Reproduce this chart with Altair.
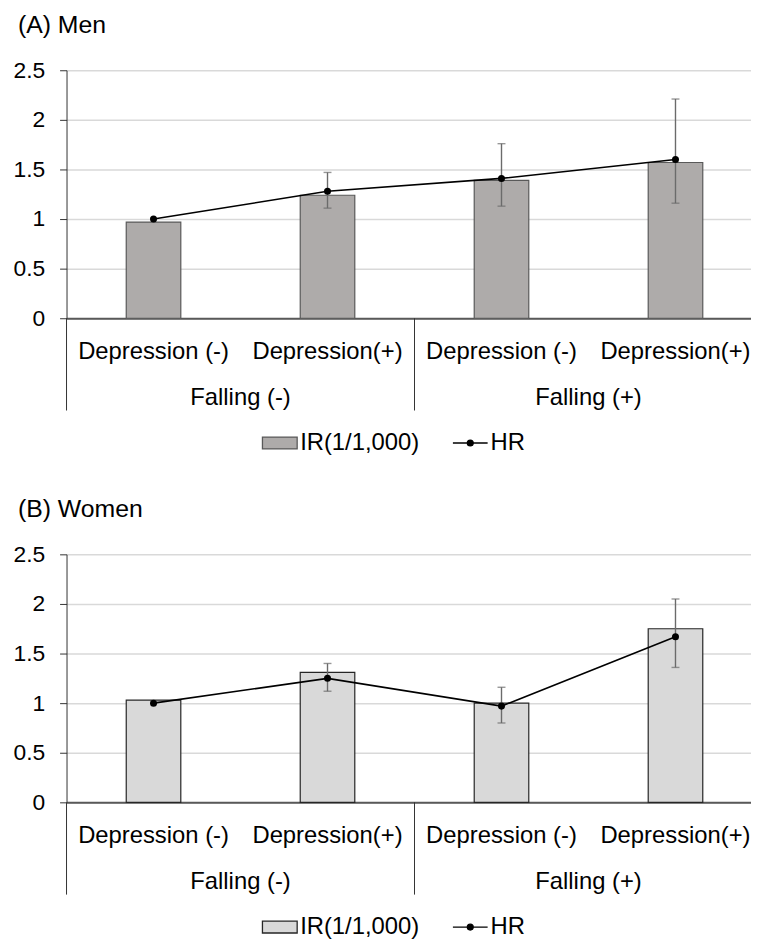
import altair as alt
import pandas as pd

# ---- data ----
conditions = ["Depression (-)", "Depression(+)", "Depression (-)", "Depression(+)"]
group_names = ["Falling (-)", "Falling (+)"]
group_start = [0, 2]
group_mid = [1, 3]
legend_items = ["IR(1/1,000)", "HR"]

men_ir = [0.97, 1.24, 1.39, 1.57]
men_hr = [1.00, 1.28, 1.41, 1.60]
men_lo = [None, 1.11, 1.13, 1.16]
men_hi = [None, 1.47, 1.76, 2.21]

women_ir = [1.03, 1.31, 1.00, 1.75]
women_hr = [1.00, 1.25, 0.97, 1.67]
women_lo = [None, 1.12, 0.80, 1.36]
women_hi = [None, 1.40, 1.16, 2.05]

y_ticks = [0, 0.5, 1, 1.5, 2, 2.5]

# ---- style ----
FONT = "Liberation Sans"
PLOT_W = 690
PLOT_H = 250
X_MAX = 3.934
LBL = 24

rect_path = "M-1,-0.34H1V0.34H-1Z"
hr_path = "M-1,0H1M-0.17,0A0.17,0.17 0 1,1 0.17,0A0.17,0.17 0 1,1 -0.17,0Z"


def panel(title, ir, hr, lo, hi, fill, stroke, legend_y):
    df = pd.DataFrame({
        "pos": [i + 0.5 for i in range(len(conditions))],
        "cond": conditions,
        "ir": ir,
        "hr": hr,
        "lo": lo,
        "hi": hi,
    })
    gdf = pd.DataFrame({"group": group_names, "start": group_start, "mid": group_mid})
    ldf = pd.DataFrame({"item": legend_items})

    xs = alt.Scale(domain=[0, X_MAX], nice=False, zero=False, padding=0)
    x = alt.X("pos:Q", scale=xs, title=None,
              axis=alt.Axis(labels=False, ticks=False, grid=False,
                            domainColor="#595959", domainWidth=2))
    y = alt.Y("ir:Q", scale=alt.Scale(domain=[0, 2.5], nice=False, padding=0), title=None,
              axis=alt.Axis(values=y_ticks, format="~g", grid=True, gridColor="#D9D9D9", gridWidth=1.5,
                            domainColor="#333333", domainWidth=1,
                            tickColor="#333333", tickSize=7, tickWidth=1,
                            labelFont=FONT, labelFontSize=23, labelColor="black",
                            labelPadding=15))
    base = alt.Chart(df)
    bars = base.mark_bar(size=55, fill=fill, stroke=stroke, strokeWidth=1.2).encode(x=x, y=y)
    errdf = base.transform_filter("isValid(datum.lo)")
    err = errdf.mark_rule(color="#6b6b6b", strokeWidth=1.4).encode(
        x=alt.X("pos:Q", title=None), y=alt.Y("lo:Q", title=None), y2="hi:Q")
    cap_hi = errdf.mark_tick(orient="horizontal", size=8, thickness=1.4, color="#6b6b6b").encode(
        x=alt.X("pos:Q", title=None), y=alt.Y("hi:Q", title=None))
    cap_lo = errdf.mark_tick(orient="horizontal", size=8, thickness=1.4, color="#6b6b6b").encode(
        x=alt.X("pos:Q", title=None), y=alt.Y("lo:Q", title=None))
    line = base.mark_line(color="black", strokeWidth=1.6).encode(
        x=alt.X("pos:Q", title=None), y=alt.Y("hr:Q", title=None))
    pts = base.mark_circle(size=50, color="black", opacity=1).encode(
        x=alt.X("pos:Q", title=None), y=alt.Y("hr:Q", title=None))
    cond_txt = base.mark_text(font=FONT, fontSize=LBL, baseline="middle", color="black").encode(
        x=alt.X("pos:Q", title=None), y=alt.value(PLOT_H + 34), text="cond:N")
    grp_txt = alt.Chart(gdf).mark_text(font=FONT, fontSize=LBL, baseline="middle", color="black").encode(
        x=alt.X("mid:Q", title=None), y=alt.value(PLOT_H + 80.5), text="group:N")
    div = alt.Chart(gdf).mark_rule(color="#333333", strokeWidth=1).encode(
        x=alt.X("start:Q", title=None), y=alt.value(PLOT_H), y2=alt.value(PLOT_H + 93))

    leg = alt.Legend(orient="none", legendX=196.5, legendY=PLOT_H + legend_y, direction="horizontal",
                     title=None, labelFont=FONT, labelFontSize=LBL, labelColor="black",
                     symbolSize=1225, symbolStrokeWidth=1.3, symbolOpacity=1,
                     labelOffset=2, columnPadding=30, padding=0, labelLimit=0)
    legend_layer = alt.Chart(ldf).mark_point(opacity=0, filled=True, size=1).encode(
        x=alt.value(100), y=alt.value(100),
        shape=alt.Shape("item:N", scale=alt.Scale(domain=legend_items, range=[rect_path, hr_path]), legend=leg),
        fill=alt.Fill("item:N", scale=alt.Scale(domain=legend_items, range=[fill, "black"]), legend=leg),
        stroke=alt.Stroke("item:N", scale=alt.Scale(domain=legend_items, range=[stroke, "black"]), legend=leg),
    )

    return alt.layer(bars, err, cap_hi, cap_lo, line, pts, cond_txt, grp_txt, div, legend_layer).properties(
        width=PLOT_W, height=PLOT_H,
        title=alt.TitleParams(text=title, anchor="start", frame="bounds", dx=5, fontSize=25, font=FONT,
                              fontWeight="normal", color="black", offset=22),
    )


top = panel("(A) Men", men_ir, men_hr, men_lo, men_hi, "#AEABAA", "#595959", 107)
bottom = panel("(B) Women", women_ir, women_hr, women_lo, women_hi, "#D9D9D9", "#262626", 107)

chart = alt.vconcat(top, bottom, spacing=238, bounds="flush").resolve_scale(
    fill="independent", stroke="independent", shape="independent"
).resolve_legend(
    fill="independent", stroke="independent", shape="independent"
).properties(
    padding={"left": 5, "top": 1, "right": 0, "bottom": -4}
).configure_view(stroke=None)

chart.save("out.html", embed_options={"renderer": "svg", "actions": False})
